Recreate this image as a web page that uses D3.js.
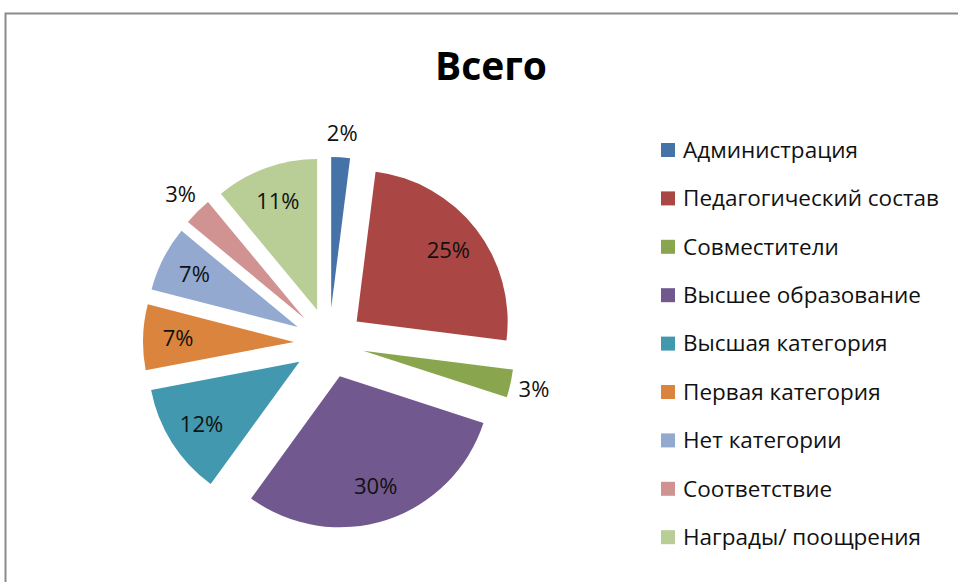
<!DOCTYPE html>
<html>
<head>
<meta charset="utf-8">
<script src="https://cdn.jsdelivr.net/npm/d3@7"></script>
<style>
  body { margin: 0; background: #fff; }
  svg { display: block; font-family: "Open Sans", "Noto Sans", sans-serif; }
</style>
</head>
<body>
<svg id="chart" width="958" height="582"></svg>
<script>
// chart data
var categories = ["Администрация", "Педагогический состав", "Совместители",
    "Высшее образование", "Высшая категория", "Первая категория",
    "Нет категории", "Соответствие", "Награды/ поощрения"];
var values = [2, 25, 3, 30, 12, 7, 7, 3, 11];
var colors = ["#4572A7", "#AA4643", "#89A54E", "#71588F", "#4198AF",
    "#DB843D", "#93A9CF", "#D19392", "#B9CD96"];
var title = "Всего";

var svg = d3.select("#chart");

// frame of the chart area (only top and left edges visible)
svg.append("rect")
    .attr("x", 5.5).attr("y", 13.5)
    .attr("width", 1000).attr("height", 700)
    .attr("fill", "none")
    .attr("stroke", "#8c8c8c")
    .attr("stroke-width", 2);

svg.append("text")
    .attr("x", 491).attr("y", 80)
    .attr("text-anchor", "middle")
    .attr("font-size", 40)
    .attr("font-weight", "bold")
    .attr("textLength", 112)
    .attr("lengthAdjust", "spacingAndGlyphs")
    .text(title);

var cx = 329, cy = 343, radius = 151, explode = 35;
var total = d3.sum(values);

var pie = d3.pie().sort(null).value(function(d) { return d; });
var arcs = pie(values);

var arc = d3.arc().innerRadius(0).outerRadius(radius);

var g = svg.append("g").attr("transform", "translate(" + cx + "," + cy + ")");

// shift each slice out along its bisector
function offset(d, dist) {
    var a = (d.startAngle + d.endAngle) / 2;
    return [dist * Math.sin(a), -dist * Math.cos(a)];
}

var slices = g.selectAll("g.slice")
    .data(arcs)
    .enter()
    .append("g")
    .attr("class", "slice")
    .attr("transform", function(d) {
        var o = offset(d, explode);
        return "translate(" + o[0] + "," + o[1] + ")";
    });

slices.append("path")
    .attr("d", arc)
    .attr("fill", function(d, i) { return colors[i]; });

slices.append("text")
    .attr("transform", function(d) {
        var pct = d.value / total;
        var o = offset(d, pct < 0.05 ? radius + 24 : 116);
        return "translate(" + o[0] + "," + o[1] + ")";
    })
    .attr("text-anchor", "middle")
    .attr("dy", "0.35em")
    .attr("font-size", 22)
    .attr("fill", "#111")
    .text(function(d) { return Math.round(d.value / total * 100) + "%"; });

// legend
var legend = svg.append("g").attr("transform", "translate(661,150)");

var rows = legend.selectAll("g")
    .data(categories)
    .enter()
    .append("g")
    .attr("transform", function(d, i) { return "translate(0," + (i * 48.4) + ")"; });

rows.append("rect")
    .attr("x", 0).attr("y", -7)
    .attr("width", 14).attr("height", 14)
    .attr("fill", function(d, i) { return colors[i]; });

rows.append("text")
    .attr("x", 22)
    .attr("dy", "0.35em")
    .attr("font-size", 22.5)
    .attr("fill", "#111")
    .text(function(d) { return d; });
</script>
</body>
</html>
